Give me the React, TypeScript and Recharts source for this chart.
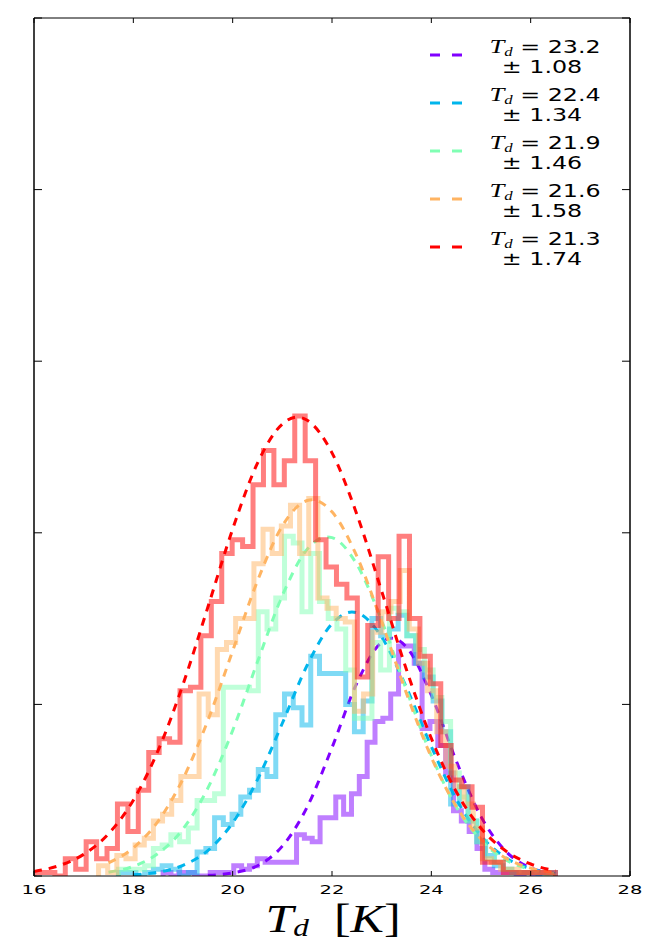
import React from "react";
import { LineChart, Line, XAxis, YAxis, Legend, Label } from "recharts";

// series order: purple, blue, green, orange, red (drawn in that order)
const colors = ['#8000ff', '#00b5ec', '#80ffb4', '#ffb462', '#ff0000'];
const fitMeans = ['23.2', '22.4', '21.9', '21.6', '21.3'];
const fitSigmas = ['1.08', '1.34', '1.46', '1.58', '1.74'];

// histogram bins: first edge and bin width (K) per series
const binStarts = [18.6, 17.7, 17.7, 17.3, 16.0];
const binWidths = [0.158, 0.176, 0.176, 0.184, 0.21];

const purpleCounts = [1, 0, 1, 1, 0, 0, 1, 1, 1, 3, 2, 3, 5, 4, 4, 4, 4, 12, 11, 10, 17, 17, 23, 18, 24, 29, 39, 45, 46, 53, 67, 67, 62, 43, 45, 38, 30, 19, 16, 13, 8, 2, 1, 1, 1, 0, 1, 0, 1, 0];
const blueCounts = [1, 1, 0, 1, 2, 3, 2, 0, 1, 7, 8, 17, 15, 18, 23, 25, 31, 29, 47, 53, 49, 44, 64, 59, 59, 59, 50, 42, 51, 75, 70, 72, 76, 70, 62, 58, 51, 42, 21, 26, 16, 10, 6, 3, 2, 1, 1, 1, 0, 1];
const greenCounts = [2, 2, 2, 3, 8, 9, 12, 10, 14, 22, 22, 24, 55, 55, 55, 54, 77, 72, 81, 99, 97, 77, 94, 80, 75, 72, 60, 46, 46, 68, 60, 78, 77, 70, 66, 60, 52, 45, 30, 23, 16, 10, 5, 4, 2, 1, 1, 1, 1, 0];
const orangeCounts = [3, 1, 6, 5, 9, 11, 16, 18, 22, 29, 29, 53, 47, 66, 68, 75, 75, 91, 101, 94, 102, 108, 94, 110, 81, 78, 75, 74, 48, 53, 71, 77, 80, 89, 72, 62, 54, 42, 32, 26, 21, 14, 5, 4, 2, 2, 1, 1, 1, 0];
const redCounts = [1, 1, 0, 5, 2, 10, 5, 8, 21, 13, 25, 36, 40, 39, 54, 55, 70, 80, 94, 98, 96, 114, 124, 114, 121, 134, 121, 98, 90, 85, 81, 58, 73, 93, 75, 99, 75, 64, 56, 38, 28, 26, 20, 4, 4, 1, 1, 1, 1, 1];
const histCounts = [purpleCounts, blueCounts, greenCounts, orangeCounts, redCounts];

// gaussian fit curves
const purpleFitX = [19.5, 20, 20.5, 21, 21.5, 22, 22.5, 23, 23.2, 23.5, 24, 24.5, 25, 25.5, 26, 26.5];
const purpleFitY = [0.2, 0.9, 3.0, 8.7, 20.1, 37.4, 56.2, 68.1, 69.3, 66.7, 52.7, 33.6, 17.3, 7.2, 2.4, 0.7];
const blueFitX = [18, 18.5, 19, 19.5, 20, 20.5, 21, 21.5, 22, 22.4, 22.5, 23, 23.5, 24, 24.5, 25, 25.5, 26, 26.5];
const blueFitY = [0.4, 1.1, 3.1, 7.4, 15.5, 28.1, 44.5, 61.4, 73.5, 76.9, 76.7, 69.6, 54.9, 37.7, 22.5, 11.7, 5.3, 2.1, 0.7];
const greenFitX = [17.5, 18, 18.5, 19, 19.5, 20, 20.5, 21, 21.5, 21.9, 22, 22.5, 23, 23.5, 24, 24.5, 25, 25.5, 26, 26.5];
const greenFitY = [1.1, 2.8, 6.6, 13.7, 25.6, 42.4, 62.4, 81.7, 95.2, 98.8, 98.6, 90.8, 74.4, 54.2, 35.1, 20.2, 10.4, 4.7, 1.9, 0.7];
const orangeFitX = [17.5, 18, 18.5, 19, 19.5, 20, 20.5, 21, 21.5, 21.6, 22, 22.5, 23, 23.5, 24, 24.5, 25, 25.5, 26, 26.5];
const orangeFitY = [3.8, 8.2, 16.0, 28.3, 45.3, 65.6, 86.0, 102.0, 109.4, 109.6, 106.1, 93.2, 74.0, 53.2, 34.6, 20.3, 10.8, 5.2, 2.3, 0.9];
const redFitX = [16, 16.5, 17, 17.5, 18, 18.5, 19, 19.5, 20, 20.5, 21, 21.3, 21.5, 22, 22.5, 23, 23.5, 24, 24.5, 25, 25.5, 26, 26.5];
const redFitY = [1.3, 3.0, 6.3, 12.3, 22.1, 36.6, 55.8, 78.3, 101.1, 120.3, 131.7, 133.7, 132.8, 123.3, 105.4, 83.0, 60.1, 40.1, 24.6, 13.9, 7.3, 3.5, 1.5];
const fitXs = [purpleFitX, blueFitX, greenFitX, orangeFitX, redFitX];
const fitYs = [purpleFitY, blueFitY, greenFitY, orangeFitY, redFitY];

const xTicks = [16, 18, 20, 22, 24, 26, 28];
const yTicks = [0, 50, 100, 150, 200, 250];

// step outline like matplotlib histtype='step'
function stepData(start: number, width: number, counts: number[]) {
  const end = start + counts.length * width;
  const pts = [{ x: start, y: 0 }];
  counts.forEach((c, i) => pts.push({ x: start + i * width, y: c }));
  pts.push({ x: end, y: counts[counts.length - 1] });
  pts.push({ x: end, y: 0 });
  return pts;
}

const histData = histCounts.map((c, i) => stepData(binStarts[i], binWidths[i], c));
const fitData = fitXs.map((xs, i) => xs.map((x, j) => ({ x, y: fitYs[i][j] })));

// inward tick marks (matplotlib classic style); labels only on the bottom axis
const XTick = (props: any) => {
  const { x, y, payload } = props;
  return (
    <g>
      <line x1={x} x2={x} y1={y} y2={y - 5} stroke="#000" />
      <text transform={`translate(${x},${y + 18}) scale(1.5,1)`} textAnchor="middle" fontSize={13}
        fontFamily="DejaVu Sans" fill="#000">{payload.value}</text>
    </g>
  );
};
const TopTick = (props: any) => <line x1={props.x} x2={props.x} y1={props.y} y2={props.y + 5} stroke="#000" />;
const LeftTick = (props: any) => <line x1={props.x} x2={props.x + 8} y1={props.y} y2={props.y} stroke="#000" />;
const RightTick = (props: any) => <line x1={props.x} x2={props.x - 8} y1={props.y} y2={props.y} stroke="#000" />;

const XTitle = (props: any) => {
  const { viewBox } = props;
  const cx = viewBox.x + viewBox.width / 2 + 1;
  const by = viewBox.y + 56;
  return (
    <text transform={`translate(${cx},${by}) scale(1.25,1)`} textAnchor="middle"
      fontFamily="Liberation Serif" fontSize={40} fill="#000">
      <tspan fontStyle="italic">T</tspan>
      <tspan fontStyle="italic" fontSize={25} dy={4}>d</tspan>
      <tspan dy={-4} dx={20}>[</tspan>
      <tspan fontStyle="italic">K</tspan>
      <tspan>]</tspan>
    </text>
  );
};

const FitLegend = () => (
  <svg width={220} height={250}>
    {colors.map((c, i) => {
      const cy = 27 + i * 48;
      return (
        <g key={i}>
          <line x1={10} x2={42} y1={cy} y2={cy} stroke={c} strokeWidth={3} strokeDasharray="10 12" />
          <text transform={`translate(125,${cy - 2}) scale(1.4,1)`} textAnchor="middle"
            fontSize={17} fontFamily="DejaVu Sans" fill="#000">
            <tspan fontFamily="Liberation Serif" fontStyle="italic" fontSize={19}>T</tspan>
            <tspan fontFamily="Liberation Serif" fontStyle="italic" fontSize={12} dy={3}>d</tspan>
            <tspan dy={-3}>{` = ${fitMeans[i]}`}</tspan>
          </text>
          <text transform={`translate(122,${cy + 18}) scale(1.4,1)`} textAnchor="middle"
            fontSize={17} fontFamily="DejaVu Sans" fill="#000">
            {`\u00b1 ${fitSigmas[i]}`}
          </text>
        </g>
      );
    })}
  </svg>
);

export default function App() {
  return (
    <div style={{ position: 'absolute', left: 0, top: 0, background: '#fff' }}>
      <LineChart width={659} height={942} margin={{ top: 17, right: 28, bottom: 36, left: 33 }}>
        <XAxis dataKey="x" type="number" domain={[16, 28]} ticks={xTicks} interval={0}
          allowDataOverflow height={30} tickSize={0} tickMargin={0} tickLine={false}
          axisLine={{ stroke: '#000' }} tick={<XTick />}>
          <Label content={<XTitle />} />
        </XAxis>
        <XAxis xAxisId="top" orientation="top" dataKey="x" type="number" domain={[16, 28]}
          ticks={xTicks} interval={0} allowDataOverflow height={1} tickSize={0} tickMargin={0}
          tickLine={false} tick={<TopTick />} axisLine={{ stroke: '#000' }} />
        <YAxis type="number" domain={[0, 250]} ticks={yTicks} interval={0} allowDataOverflow
          width={1} tickSize={0} tickMargin={0} tickLine={false} tick={<LeftTick />}
          axisLine={{ stroke: '#000', strokeWidth: 1.5 }} />
        <YAxis yAxisId="right" orientation="right" type="number" domain={[0, 250]} ticks={yTicks}
          interval={0} allowDataOverflow width={1} tickSize={0} tickMargin={0} tickLine={false}
          tick={<RightTick />} axisLine={{ stroke: '#000', strokeWidth: 1.5 }} />
        {colors.map((c, i) => [
          <Line key={`h${i}`} data={histData[i]} dataKey="y" type="stepAfter" stroke={c}
            strokeOpacity={0.5} strokeWidth={5} dot={false} activeDot={false}
            legendType="none" isAnimationActive={false} />,
          <Line key={`f${i}`} data={fitData[i]} dataKey="y" type="monotone" stroke={c}
            strokeWidth={3} strokeDasharray="8 7" dot={false} activeDot={false}
            isAnimationActive={false} />,
        ])}
        <Legend layout="horizontal" verticalAlign="middle" align="center" content={<FitLegend />}
          wrapperStyle={{ left: 420, top: 28, width: 220, height: 250 }} />
      </LineChart>
    </div>
  );
}
